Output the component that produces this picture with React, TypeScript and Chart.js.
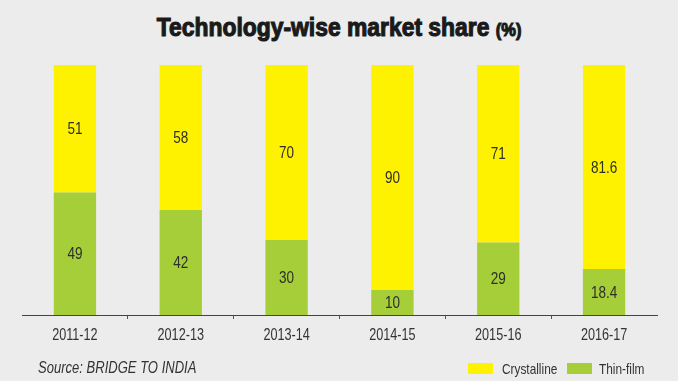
import React, { useEffect, useRef } from "react";
import { Chart, registerables } from "chart.js";

Chart.register(...registerables);

const categories = ["2011-12", "2012-13", "2013-14", "2014-15", "2015-16", "2016-17"];
const crystalline = [51, 58, 70, 90, 71, 81.6];
const thinFilm = [49, 42, 30, 10, 29, 18.4];
const seriesNames = ["Crystalline", "Thin-film"];
const titleText = "Technology-wise market share";
const titleUnit = "(%)";
const sourceText = "Source: BRIDGE TO INDIA";

const YELLOW = "#fff200";
const GREEN = "#a6ce39";
const BG = "#ececec";
const SANS = '"Liberation Sans", Arial, sans-serif';

function narrowText(ctx: CanvasRenderingContext2D, text: string, x: number, y: number, scale: number) {
  ctx.save();
  ctx.translate(x, y);
  ctx.scale(scale, 1);
  ctx.fillText(text, 0, 0);
  ctx.restore();
}

const narrowLabels = {
  id: "narrowLabels",
  afterDatasetsDraw(chart: any) {
    const ctx = chart.ctx as CanvasRenderingContext2D;
    ctx.save();
    ctx.font = `16.5px ${SANS}`;
    ctx.fillStyle = "#2e2e2e";
    ctx.textAlign = "center";
    ctx.textBaseline = "alphabetic";
    chart.data.datasets.forEach((ds: any, di: number) => {
      const meta = chart.getDatasetMeta(di);
      meta.data.forEach((el: any, i: number) => {
        const { x, y, base } = el.getProps(["x", "y", "base"], true);
        narrowText(ctx, String(ds.data[i]), x, (y + base) / 2 + 5.5, 0.82);
      });
    });
    // category labels along the x axis
    const xs = chart.scales.x;
    ctx.font = `16px ${SANS}`;
    ctx.fillStyle = "#333";
    (chart.data.labels as string[]).forEach((lab, i) => {
      narrowText(ctx, lab, xs.getPixelForTick(i), xs.top + 24.5, 0.79);
    });
    ctx.restore();
  },
};

export default function App() {
  const ref = useRef<HTMLCanvasElement | null>(null);

  useEffect(() => {
    document.body.style.margin = "0";
    if (!ref.current) return;
    const chart = new Chart(ref.current, {
      type: "bar",
      data: {
        labels: categories,
        datasets: [
          {
            label: seriesNames[1],
            data: thinFilm,
            backgroundColor: GREEN,
            categoryPercentage: 0.4,
            barPercentage: 1.0,
          },
          {
            label: seriesNames[0],
            data: crystalline,
            backgroundColor: YELLOW,
            categoryPercentage: 0.4,
            barPercentage: 1.0,
          },
        ],
      },
      options: {
        responsive: false,
        animation: false,
        layout: { padding: { top: 65, left: 22, right: 21, bottom: 0 } },
        plugins: {
          legend: { display: false },
          title: { display: false },
          tooltip: { enabled: false },
        },
        scales: {
          x: {
            stacked: true,
            afterFit: (s: any) => {
              s.height = 66;
            },
            grid: {
              offset: true,
              drawOnChartArea: false,
              drawTicks: true,
              tickLength: 4,
              lineWidth: 1,
              color: (c: any) => (c.type === "tick" && c.index > 0 ? "#555" : "rgba(0,0,0,0)"),
            },
            border: { display: true, color: "#444", width: 1 },
            ticks: { display: false, autoSkip: false },
          },
          y: { stacked: true, display: false, min: 0, max: 100 },
        },
      },
      plugins: [narrowLabels],
    } as any);
    return () => chart.destroy();
  }, []);

  const legendText: React.CSSProperties = {
    position: "absolute",
    top: 361.3,
    fontFamily: SANS,
    fontSize: 15,
    lineHeight: 1,
    color: "#333",
    whiteSpace: "nowrap",
    transform: "scaleX(0.79)",
    transformOrigin: "left top",
  };
  const box: React.CSSProperties = { position: "absolute", top: 363, width: 25, height: 11 };

  return (
    <div
      style={{
        position: "fixed",
        left: 0,
        top: 0,
        width: 678,
        height: 381,
        background: BG,
        overflow: "hidden",
      }}
    >
      <div
        style={{
          position: "absolute",
          left: 0,
          top: 14.8,
          width: 678,
          textAlign: "center",
          fontFamily: SANS,
          fontWeight: 700,
          fontSize: 25,
          lineHeight: 1,
          color: "#1a1a1a",
          WebkitTextStroke: "1.1px #1a1a1a",
          whiteSpace: "nowrap",
          transform: "scaleX(0.915)",
          transformOrigin: "340px 0",
        }}
      >
        {titleText} <span style={{ fontSize: 18 }}>{titleUnit}</span>
      </div>
      <canvas
        ref={ref}
        width={678}
        height={381}
        style={{ position: "absolute", left: 0, top: 0, width: 678, height: 381 }}
      />
      <div
        style={{
          position: "absolute",
          left: 38,
          top: 359,
          fontFamily: SANS,
          fontStyle: "italic",
          fontSize: 16.5,
          lineHeight: 1,
          color: "#333",
          whiteSpace: "nowrap",
          transform: "scaleX(0.79)",
          transformOrigin: "left top",
        }}
      >
        {sourceText}
      </div>
      <div style={{ ...box, left: 468, background: YELLOW }} />
      <div style={{ ...legendText, left: 502 }}>{seriesNames[0]}</div>
      <div style={{ ...box, left: 567, background: GREEN }} />
      <div style={{ ...legendText, left: 599 }}>{seriesNames[1]}</div>
    </div>
  );
}
